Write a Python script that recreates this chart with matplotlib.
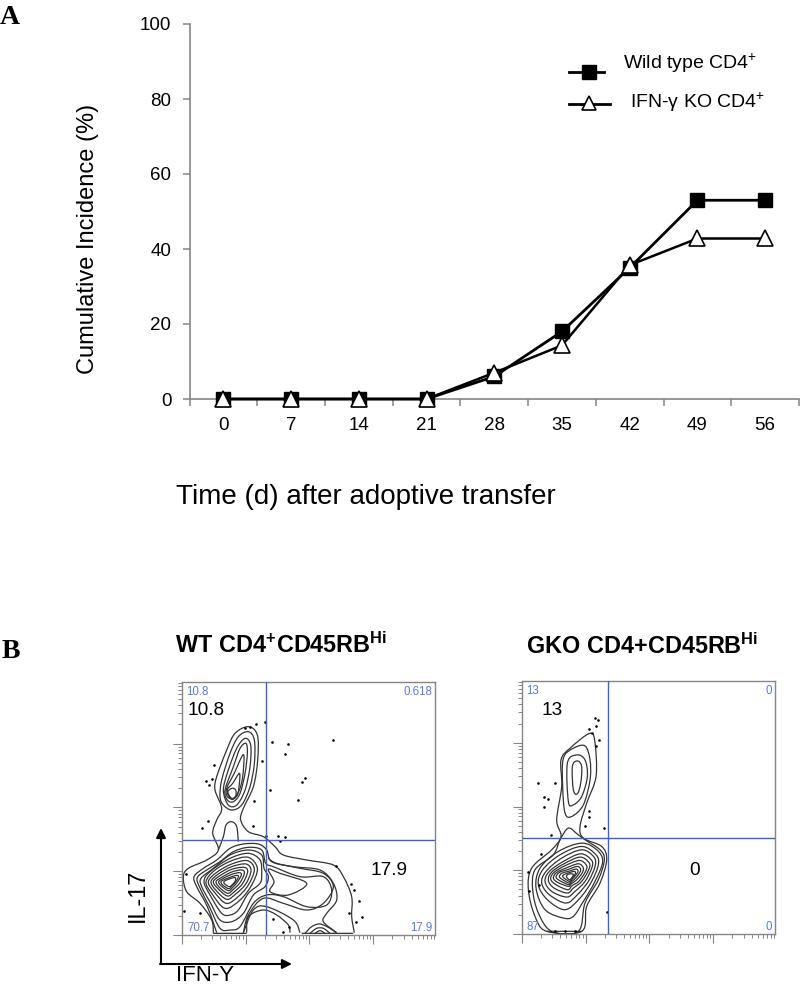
import numpy as np
import matplotlib
matplotlib.use("Agg")
import matplotlib.pyplot as plt
from matplotlib.path import Path
from matplotlib.patches import PathPatch, FancyArrowPatch
from matplotlib.lines import Line2D

plt.rcParams['font.family'] = ['Liberation Sans', 'DejaVu Sans']
plt.rcParams['mathtext.fontset'] = 'custom'
plt.rcParams['mathtext.rm'] = 'Liberation Sans'
plt.rcParams['mathtext.bf'] = 'Liberation Sans:bold'
plt.rcParams['mathtext.default'] = 'rm'

# ---- Panel A data
days = ['0', '7', '14', '21', '28', '35', '42', '49', '56']
wild_type = [0, 0, 0, 0, 6, 18, 35, 53, 53]
ifn_ko = [0, 0, 0, 0, 7, 14.3, 35.7, 42.8, 42.8]
y_ticks = [0, 20, 40, 60, 80, 100]

# ---- Panel B data (channel units; IL-17 channel grows downwards in these lists)
wt_open = [
    [(280,940),(275,900),(240,850),(200,815),(190,770),(205,745),(260,720),(295,690),(278,640),(290,600),(305,565),(285,510),(290,470),(320,390),(345,340),(385,320),(412,345),(413,420),(400,500),(370,565),(362,600),(385,635),(430,650),(465,680),(490,705),(560,720),(640,735),(670,770),(695,830),(695,890),(703,938)],
    [(510,938),(505,915),(470,885),(430,870),(385,890),(380,938)],
    [(290,938),(262,860),(230,800),(222,770),(250,745),(290,720),(330,685),(370,672),(415,672),(440,690),(455,725),(520,740),(600,750),(640,790),(650,840),(620,880),(610,905),(650,938)],
    [(540,938),(520,900),(440,860),(400,870),(370,938)],
    [(295,690),(310,650),(318,615),(335,605),(350,620),(355,665)],
    [(370,938),(385,885),(430,835),(490,850),(560,870),(610,850),(640,800),(610,760),(540,745),(470,730),(445,715)],
    [(555,940),(575,920),(600,912),(630,925),(650,940)],
    [(570,940),(590,925),(610,925),(630,940)],
    [(585,940),(600,932),(615,940)],
    [(280,940),(380,940)],
    [(545,940),(700,940)],
]
wt_closed = [
    [(300,530),(305,480),(330,400),(355,350),(385,335),(403,360),(403,430),(390,500),(365,555),(335,570),(310,555)],
    [(310,510),(325,450),(350,385),(375,355),(392,375),(390,440),(375,510),(350,555),(325,555)],
    [(315,510),(340,440),(360,385),(378,370),(382,400),(375,460),(360,520),(340,545),(322,540)],
    [(320,505),(345,455),(365,410),(372,410),(368,470),(358,510),(340,535),(322,530)],
    [(322,510),(338,490),(358,460),(358,490),(352,525),(335,535)],
    [(322,518),(335,505),(347,510),(347,530),(335,538)],
    [(300,925),(268,860),(238,800),(232,772),(260,750),(300,725),(340,695),(385,682),(425,690),(437,730),(460,740),(540,770),(610,770),(635,810),(620,855),(560,860),(490,830),(440,825),(400,850),(360,920),(330,930)],
    [(445,748),(480,760),(560,790),(505,825),(450,815),(462,785)],
    [(300,900),(272,850),(245,800),(243,775),(280,745),(330,705),(385,690),(425,705),(432,745),(445,770),(435,800),(400,825),(370,880),(335,905)],
    [(305,880),(270,825),(252,785),(270,755),(330,715),(385,700),(420,720),(425,760),(420,790),(385,820),(355,870),(330,885)],
    [(315,865),(275,820),(258,785),(285,750),(335,722),(385,712),(412,745),(395,795),(360,840)],
    [(318,850),(282,815),(265,785),(290,757),(335,732),(382,722),(403,748),(385,795),(352,832)],
    [(320,838),(287,810),(273,785),(295,762),(335,740),(378,732),(393,752),(377,792),(347,822)],
    [(322,828),(293,805),(280,785),(300,767),(335,748),(372,742),(383,755),(368,790),(343,815)],
    [(323,820),(298,802),(288,785),(305,772),(335,756),(365,750),(373,760),(360,788),(340,808)],
    [(325,812),(303,797),(296,785),(310,775),(335,763),(358,758),(364,765),(352,786),(338,802)],
    [(326,806),(308,795),(303,785),(315,778),(335,770),(352,766),(355,772),(345,788),(336,797)],
    [(328,800),(314,792),(312,785),(320,780),(337,774),(346,773),(346,782),(338,793)],
]
wt_dots = [(375,323),(390,320),(408,313),(435,306),(457,366),(504,372),(640,360),(495,401),(425,422),(283,436),(257,483),(275,476),(268,494),(545,487),(555,475),(450,510),(534,540),(401,543),(263,604),(245,625),(400,619),(475,648),(495,652),(480,662),(437,648),(648,737),(692,793),(702,810),(716,843),(688,878),(725,890),(707,905),(240,880),(192,872),(197,762),(458,898),(490,937),(508,920)]

gko_open = [[(170,935),(275,935)]]
gko_closed = [
    [(185,690),(213,650),(200,600),(215,500),(213,420),(240,385),(300,340),(315,370),(318,470),(290,550),(270,620),(280,655),(335,680),(350,720),(330,790),(290,860),(275,935),(170,935),(135,890),(115,810),(125,745)],
    [(185,935),(145,880),(128,810),(135,750),(190,705),(210,660),(235,625),(262,643),(285,660),(330,690),(343,720),(325,780),(285,850),(265,935)],
    [(225,580),(218,500),(220,415),(250,385),(285,378),(300,420),(300,480),(280,555),(245,590)],
    [(235,545),(232,430),(260,405),(285,420),(292,470),(275,530),(250,555)],
    [(250,510),(247,440),(262,423),(275,440),(272,490),(262,522)],
    [(220,895),(165,870),(138,805),(150,745),(205,695),(275,670),(320,690),(338,725),(315,785),(280,845),(250,890)],
    [(225,870),(172,840),(145,795),(158,750),(210,705),(275,680),(318,705),(325,735),(305,785),(270,835)],
    [(228,850),(178,825),(155,790),(168,755),(215,715),(275,690),(312,712),(315,740),(295,785),(262,825)],
    [(230,832),(185,815),(165,785),(178,755),(220,725),(272,702),(305,722),(305,745),(285,785),(255,815)],
    [(232,820),(192,805),(175,782),(185,757),(222,732),(270,712),(298,730),(295,752),(275,785),(250,805)],
    [(233,810),(198,795),(182,778),(192,758),(225,738),(268,722),(290,738),(285,758),(266,785),(246,798)],
    [(235,800),(203,788),(190,775),(200,758),(228,745),(265,732),(280,745),(275,762),(258,782),(244,792)],
    [(236,795),(208,782),(198,772),(208,758),(232,750),(262,740),(272,750),(265,765),(252,780),(242,788)],
    [(238,790),(215,778),(208,770),(216,760),(235,755),(258,748),(264,755),(256,768),(247,778)],
    [(238,785),(222,775),(218,768),(228,762),(240,758),(254,755),(256,762),(248,772),(242,780)],
    [(238,780),(230,772),(232,765),(244,762),(250,765),(245,775)],
]
gko_dots = [(316,295),(325,300),(319,318),(298,328),(306,338),(327,359),(318,377),(145,489),(195,489),(163,530),(174,536),(163,560),(297,574),(298,592),(285,620),(342,625),(183,645),(154,704),(113,757),(118,815),(146,795),(350,878),(195,935),(225,935),(255,935)]

W, H = 800, 988
GRAY = '#858585'
BLUE = '#3f5fd8'
BLUE_TXT = '#5a78e6'
INK = '#333333'

fig = plt.figure(figsize=(W / 100, H / 100), dpi=100, facecolor='white')


def rect(x0, y0, x1, y1):
    return [x0 / W, 1 - y1 / H, (x1 - x0) / W, (y1 - y0) / H]


def ptext(x, y, s, **kw):
    kw.setdefault('va', 'center')
    kw.setdefault('ha', 'left')
    return fig.text(x / W, 1 - y / H, s, **kw)


# ---- Panel A
ax = fig.add_axes(rect(189.5, 24, 799, 399))
pos = np.arange(len(days))
ax.plot(pos, wild_type, color='black', lw=2, marker='s', ms=10.5, mfc='black', mec='black', clip_on=False, zorder=3)
ax.plot(pos, ifn_ko, color='black', lw=1.8, marker='^', ms=12, mfc='white', mec='black', mew=1.2, clip_on=False, zorder=4)
ax.set_xlim(-0.5, len(days) - 0.5)
ax.set_ylim(0, 100)
ax.set_yticks(y_ticks)
ax.set_xticks(pos)
ax.set_xticklabels(days)
ax.set_xticks(np.arange(len(days) + 1) - 0.5, minor=True)
ax.tick_params(axis='x', which='major', length=0, labelsize=13.5, pad=13)
ax.tick_params(axis='x', which='minor', length=5, color=GRAY, width=1.1)
ax.tick_params(axis='y', length=5, color=GRAY, width=1.1, labelsize=13.5, pad=8)
for s in ('top', 'right'):
    ax.spines[s].set_visible(False)
for s in ('left', 'bottom'):
    ax.spines[s].set_color(GRAY)
    ax.spines[s].set_linewidth(1.2)
ptext(88, 239, 'Cumulative Incidence (%)', rotation=90, fontsize=17, ha='center')
ptext(176, 497, 'Time (d) after adoptive transfer', fontsize=20)

# legend
fig.add_artist(Line2D([569 / W, 604 / W], [1 - 72 / H] * 2, color='black', lw=2))
fig.add_artist(Line2D([589 / W], [1 - 72 / H], marker='s', ms=9.5, color='black'))
fig.add_artist(Line2D([569 / W, 610 / W], [1 - 104 / H] * 2, color='black', lw=2))
fig.add_artist(Line2D([589 / W], [1 - 103 / H], marker='^', ms=10, mfc='white', mec='black', mew=1.2, color='black'))
ptext(623, 63, 'Wild type CD4$^{+}$', fontsize=14)
ptext(630, 102, 'IFN-γ KO CD4$^{+}$', fontsize=14)

ptext(0, 17, 'A', family='Liberation Serif', fontweight='bold', fontsize=20)
ptext(2, 651, 'B', family='Liberation Serif', fontweight='bold', fontsize=20)


# ---- Panel B
def smooth_path(pts, closed):
    p = np.array(pts, float)
    n = len(p)
    verts, codes = [p[0]], [Path.MOVETO]
    segs = n if closed else n - 1
    for i in range(segs):
        if closed:
            p0, p1, p2, p3 = p[(i - 1) % n], p[i], p[(i + 1) % n], p[(i + 2) % n]
        else:
            p0, p1, p2, p3 = p[max(i - 1, 0)], p[i], p[i + 1], p[min(i + 2, n - 1)]
        verts += [p1 + (p2 - p0) / 6, p2 - (p3 - p1) / 6, p2]
        codes += [Path.CURVE4] * 3
    return Path(verts, codes)


def flow_panel(box, xlim, ylim, qx, qy, opened, closed, dots, corners, notes):
    a = fig.add_axes(rect(*box))
    a.set_xlim(*xlim)
    a.set_ylim(*ylim)
    span = xlim[1] - xlim[0]
    dec = span / 3.97
    xmaj = [xlim[0] + dec * i for i in range(4)]
    ymaj = [ylim[0] - dec * i for i in range(4)]
    logs = np.log10(np.arange(2, 10))
    a.set_xticks(xmaj)
    a.set_yticks(ymaj)
    a.set_xticks([m + dec * l for m in xmaj for l in logs if m + dec * l < xlim[1]], minor=True)
    a.set_yticks([m - dec * l for m in ymaj for l in logs if m - dec * l > ylim[1]], minor=True)
    a.set_xticklabels([])
    a.set_yticklabels([])
    a.tick_params(which='major', length=6.5, width=0.8, color=GRAY)
    a.tick_params(which='minor', length=3, width=0.7, color=GRAY)
    for s in a.spines.values():
        s.set_color(GRAY)
        s.set_linewidth(1)
    for ring in opened:
        a.add_patch(PathPatch(smooth_path(ring, False), fill=False, ec=INK, lw=0.9))
    for ring in closed:
        a.add_patch(PathPatch(smooth_path(ring, True), fill=False, ec=INK, lw=0.9))
    a.scatter(*zip(*dots), s=3.5, color='black', linewidths=0, zorder=3)
    a.plot([qx, qx], [ylim[1], ylim[0] - 3], color=BLUE, lw=1, zorder=4)
    a.plot([xlim[0] + 5, xlim[1] - 2], [qy, qy], color=BLUE, lw=1, zorder=4)
    for x, y, s, ha in corners:
        a.text(x, y, s, color=BLUE_TXT, fontsize=8.3, ha=ha, va='center')
    for x, y, s in notes:
        a.text(x, y, s, color='black', fontsize=13.7, ha='left', va='center')
    return a


flow_panel((181.7, 681.7, 435, 935), (185, 945), (945, 185), 438, 659,
           wt_open, wt_closed, wt_dots,
           [(198, 216, '10.8', 'left'), (938, 216, '0.618', 'right'),
            (203, 925, '70.7', 'left'), (938, 925, '17.9', 'right')],
           [(203, 272, '10.8'), (752, 752, '17.9')])
flow_panel((521.7, 681, 775, 934), (95, 855), (943, 183), 353, 656,
           gko_open, gko_closed, gko_dots,
           [(107, 212, '13', 'left'), (845, 212, '0', 'right'),
            (109, 922, '87', 'left'), (845, 922, '0', 'right')],
           [(155, 272, '13'), (597, 752, '0')])

ptext(175, 645, r'$\mathbf{WT\ CD4^{+}CD45RB^{Hi}}$', fontsize=16.8)
ptext(526, 646, r'$\mathbf{GKO\ CD4{+}CD45RB^{Hi}}$', fontsize=16.8)

for start, end in (((161, 964), (161, 828)), ((160, 964), (292, 964))):
    fig.add_artist(FancyArrowPatch((start[0] / W, 1 - start[1] / H), (end[0] / W, 1 - end[1] / H),
                                   transform=fig.transFigure, arrowstyle='-|>', mutation_scale=14,
                                   color='black', lw=1.5, shrinkA=0, shrinkB=0))
ptext(137, 895, 'IL-17', rotation=90, fontsize=16.8, ha='center')
ptext(176, 986, 'IFN-Y', fontsize=16, va='bottom')

fig.savefig('out.png', dpi=100)
